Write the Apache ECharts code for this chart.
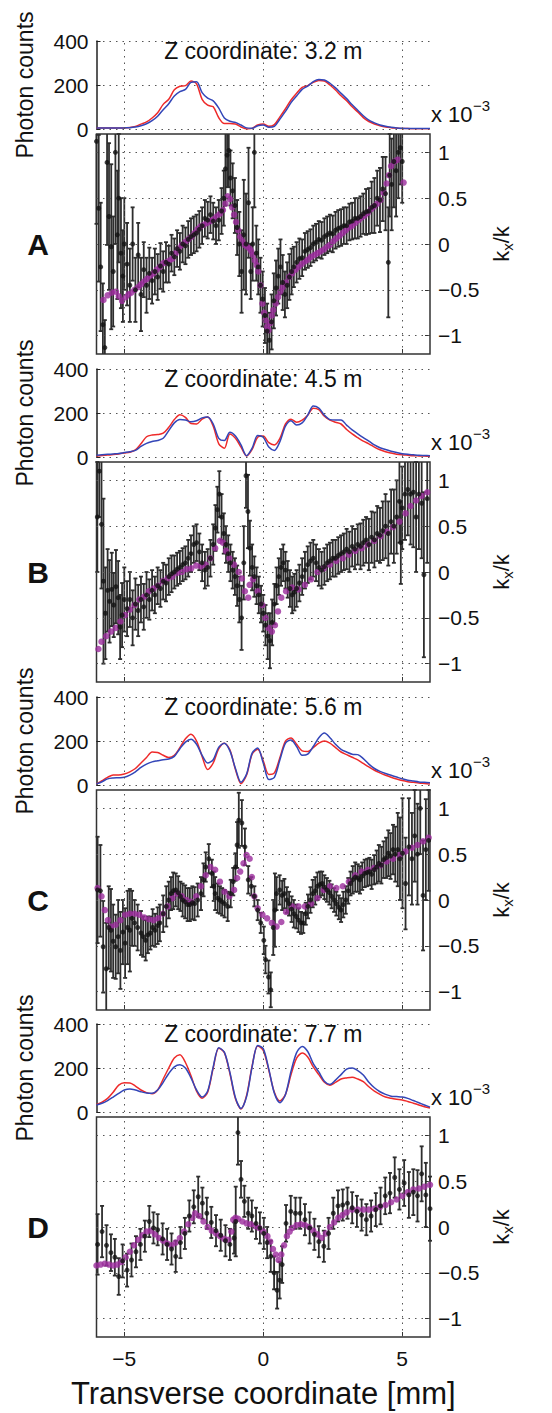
<!DOCTYPE html>
<html><head><meta charset="utf-8">
<script src="https://cdn.jsdelivr.net/npm/echarts@6.0.0/dist/echarts.min.js"></script>
<style>html,body{margin:0;padding:0;background:#fff}#c{width:552px;height:1413px}</style>
</head><body><div id="c"></div>
<script>
// ---------- DATA ----------
const topX = [-6,-5.8,-5.6,-5.4,-5.2,-5,-4.8,-4.6,-4.4,-4.2,-4,-3.8,-3.6,-3.4,-3.2,-3,-2.8,-2.6,-2.4,-2.2,-2,-1.8,-1.6,-1.4,-1.2,-1,-0.8,-0.6,-0.4,-0.2,0,0.2,0.4,0.6,0.8,1,1.2,1.4,1.6,1.8,2,2.2,2.4,2.6,2.8,3,3.2,3.4,3.6,3.8,4,4.2,4.4,4.6,4.8,5,5.2,5.4,5.6,5.8,6];

const countsRedA  = [5,5,5,5,5,5,7,12,22,32,50,74,112,135,178,194,197,218,205,135,108,101,51,25,25,23,9,0,3,18,23,12,20,55,92,132,163,189,197,212,221,218,200,177,151,128,101,77,52,34,23,15,9,6,4,2,2,1,1,1,1];
const countsBlueA = [4,4,4,4,4,5,6,9,15,24,38,58,88,115,150,170,180,212,215,165,140,128,95,50,35,30,18,5,3,15,18,8,12,45,80,120,150,180,195,215,225,223,208,187,162,138,110,85,60,40,28,18,12,8,5,3,2,2,2,2,2];
const countsRedB  = [5,7,9,11,14,18,22,32,60,92,100,102,108,135,170,192,180,152,150,172,182,140,60,40,105,85,45,5,35,90,95,65,55,85,150,172,158,168,190,222,215,185,168,158,150,125,105,88,72,60,45,33,24,18,13,10,8,6,5,4,3];
const countsBlueB = [8,10,12,14,16,20,24,30,48,62,70,75,85,120,155,170,168,160,165,178,182,150,85,75,112,95,55,6,40,98,90,45,30,70,140,165,145,155,190,232,222,190,170,168,168,145,123,105,88,72,55,42,34,26,20,15,12,10,8,7,6];
const countsRedC  = [5,20,35,45,45,50,60,75,100,125,150,148,135,125,135,170,210,231,200,130,70,100,165,190,160,70,6,45,140,162,110,48,55,125,200,214,185,155,152,170,190,200,190,170,150,138,126,114,98,82,67,55,44,35,27,20,15,12,9,7,5];
const countsBlueC = [5,15,28,32,33,35,45,60,80,95,105,110,115,118,130,165,195,208,185,135,100,115,172,190,155,75,12,50,145,168,100,25,35,115,190,205,175,135,140,175,215,236,215,185,162,150,140,138,120,95,75,62,52,44,36,28,22,18,14,12,10];
const countsRedD  = [34,45,62,90,122,133,132,118,100,88,83,100,150,200,245,260,225,165,95,63,90,200,290,270,175,60,14,75,210,300,280,190,90,50,80,170,245,268,250,205,170,135,122,135,150,155,158,150,138,115,95,80,68,62,58,55,48,40,32,24,18];
const countsBlueD = [32,40,52,68,85,100,105,100,92,86,85,100,135,175,205,215,200,155,100,68,95,205,292,272,180,65,16,70,205,302,288,195,85,42,80,185,270,298,275,220,182,140,125,145,170,195,200,188,168,135,110,92,80,72,70,68,62,52,42,32,22];

// measured k_x/k (x10^-3): [x, value, error]
const kxA = [[-6.0,1.12,0.9],[-5.92,0.39,0.8],[-5.85,-0.25,0.7],[-5.77,-0.88,0.45],[-5.7,-1.13,0.3],[-5.62,0.89,0.9],[-5.55,0.3,0.8],[-5.47,-0.03,0.9],[-5.4,-0.3,0.6],[-5.32,1.0,1.0],[-5.25,0.1,0.7],[-5.2,0.5,0.7],[-5.12,-0.1,0.6],[-5.05,-0.35,0.5],[-5.0,0.0,0.5],[-4.9,-0.22,0.45],[-4.8,-0.45,0.4],[-4.7,0.0,0.4],[-4.6,-0.5,0.35],[-4.5,-0.12,0.35],[-4.4,-0.55,0.4],[-4.3,-0.28,0.3],[-4.2,-0.45,0.3],[-4.1,-0.32,0.28],[-4.0,-0.4,0.25],[-3.9,-0.3,0.25],[-3.8,-0.36,0.25],[-3.7,-0.24,0.25],[-3.6,-0.3,0.22],[-3.5,-0.2,0.22],[-3.4,-0.22,0.2],[-3.3,-0.1,0.2],[-3.2,-0.14,0.2],[-3.1,-0.05,0.2],[-3.0,-0.08,0.2],[-2.9,0.0,0.2],[-2.8,-0.02,0.2],[-2.7,0.05,0.2],[-2.6,0.08,0.2],[-2.5,0.1,0.2],[-2.4,0.12,0.2],[-2.3,0.16,0.2],[-2.2,0.2,0.2],[-2.1,0.28,0.2],[-2.0,0.26,0.2],[-1.9,0.32,0.2],[-1.8,0.25,0.2],[-1.7,0.2,0.2],[-1.6,0.26,0.22],[-1.5,0.36,0.25],[-1.42,0.5,0.3],[-1.36,0.82,0.4],[-1.3,0.97,0.35],[-1.24,1.02,0.4],[-1.18,0.72,0.3],[-1.1,0.58,0.3],[-1.02,0.42,0.3],[-0.94,0.18,0.3],[-0.86,0.0,0.35],[-0.78,-0.3,0.45],[-0.7,0.1,0.6],[-0.62,0.0,0.55],[-0.53,0.45,0.6],[-0.45,-0.3,0.3],[-0.38,0.0,0.4],[-0.32,1.0,0.6],[-0.25,-0.1,0.3],[-0.18,-0.25,0.3],[-0.1,-0.45,0.3],[-0.02,-0.6,0.3],[0.06,-0.78,0.3],[0.14,-0.95,0.3],[0.22,-1.05,0.3],[0.3,-0.85,0.3],[0.38,-0.62,0.3],[0.46,-0.48,0.3],[0.54,-0.35,0.3],[0.62,-0.25,0.3],[0.7,-0.42,0.3],[0.78,-0.55,0.25],[0.86,-0.45,0.25],[0.94,-0.36,0.25],[1.02,-0.3,0.25],[1.1,-0.25,0.22],[1.2,-0.2,0.22],[1.3,-0.16,0.22],[1.4,-0.15,0.2],[1.5,-0.08,0.2],[1.6,-0.06,0.2],[1.7,-0.04,0.2],[1.8,0.0,0.2],[1.9,0.02,0.2],[2.0,0.05,0.2],[2.1,0.04,0.2],[2.2,0.08,0.2],[2.3,0.1,0.2],[2.4,0.12,0.2],[2.5,0.11,0.2],[2.6,0.15,0.2],[2.7,0.17,0.2],[2.8,0.18,0.2],[2.9,0.2,0.2],[3.0,0.2,0.2],[3.1,0.24,0.2],[3.2,0.25,0.2],[3.3,0.28,0.22],[3.4,0.28,0.22],[3.5,0.3,0.22],[3.6,0.33,0.22],[3.7,0.35,0.25],[3.8,0.36,0.25],[3.9,0.4,0.28],[4.0,0.42,0.3],[4.1,0.5,0.3],[4.2,0.48,0.35],[4.3,0.6,0.35],[4.4,0.55,0.4],[4.5,-0.2,0.6],[4.55,0.75,0.45],[4.62,0.65,0.5],[4.7,0.9,0.5],[4.78,0.8,0.5],[4.86,1.0,0.5],[4.93,1.05,0.4],[5.0,0.9,0.45]];
const kxB = [[-5.97,0.6,0.6],[-5.9,1.1,0.5],[-5.82,0.52,0.7],[-5.75,-0.1,0.9],[-5.68,-0.45,0.5],[-5.6,-0.2,0.45],[-5.53,-0.32,0.45],[-5.45,-0.19,0.4],[-5.38,-0.36,0.35],[-5.3,-0.16,0.4],[-5.22,-0.28,0.4],[-5.15,-0.6,0.35],[-5.08,-0.47,0.35],[-5.0,-0.3,0.35],[-4.9,-0.4,0.3],[-4.8,-0.3,0.3],[-4.7,-0.5,0.3],[-4.6,-0.35,0.28],[-4.5,-0.42,0.28],[-4.4,-0.3,0.25],[-4.3,-0.38,0.25],[-4.2,-0.25,0.25],[-4.1,-0.3,0.22],[-4.0,-0.2,0.22],[-3.9,-0.25,0.2],[-3.8,-0.15,0.2],[-3.7,-0.18,0.2],[-3.6,-0.1,0.2],[-3.5,-0.12,0.2],[-3.4,-0.05,0.2],[-3.3,-0.02,0.2],[-3.2,0.0,0.18],[-3.1,0.03,0.18],[-3.0,0.05,0.18],[-2.9,0.08,0.18],[-2.8,0.1,0.18],[-2.7,0.15,0.2],[-2.6,0.2,0.2],[-2.5,0.3,0.2],[-2.4,0.32,0.2],[-2.3,0.22,0.2],[-2.2,0.1,0.2],[-2.1,0.02,0.2],[-2.0,0.05,0.2],[-1.9,0.15,0.2],[-1.8,0.3,0.22],[-1.72,0.48,0.25],[-1.65,0.68,0.25],[-1.58,0.85,0.25],[-1.5,0.6,0.25],[-1.42,0.42,0.22],[-1.34,0.3,0.2],[-1.26,0.2,0.2],[-1.18,0.1,0.2],[-1.1,0.02,0.2],[-1.02,-0.05,0.2],[-0.94,-0.15,0.22],[-0.86,-0.3,0.25],[-0.78,-0.5,0.35],[-0.7,0.1,0.4],[-0.62,1.05,0.35],[-0.55,0.66,0.4],[-0.48,0.26,0.3],[-0.4,0.05,0.25],[-0.32,-0.05,0.22],[-0.24,-0.15,0.2],[-0.16,-0.25,0.2],[-0.08,-0.35,0.2],[0.0,-0.45,0.2],[0.08,-0.58,0.22],[0.16,-0.7,0.25],[0.24,-0.75,0.3],[0.32,-0.55,0.25],[0.4,-0.35,0.22],[0.48,-0.15,0.2],[0.56,-0.05,0.2],[0.64,0.05,0.2],[0.72,0.1,0.2],[0.8,0.02,0.2],[0.88,-0.08,0.2],[0.96,-0.18,0.2],[1.04,-0.25,0.2],[1.12,-0.22,0.2],[1.2,-0.18,0.2],[1.3,-0.12,0.2],[1.4,-0.05,0.2],[1.5,0.02,0.2],[1.6,0.08,0.2],[1.7,0.12,0.2],[1.8,0.15,0.2],[1.9,0.1,0.2],[2.0,0.05,0.2],[2.1,0.02,0.2],[2.2,0.06,0.2],[2.3,0.1,0.2],[2.4,0.12,0.2],[2.5,0.15,0.2],[2.6,0.15,0.2],[2.7,0.18,0.2],[2.8,0.2,0.2],[2.9,0.22,0.2],[3.0,0.25,0.22],[3.1,0.22,0.22],[3.2,0.28,0.22],[3.3,0.25,0.22],[3.4,0.3,0.22],[3.5,0.28,0.25],[3.6,0.32,0.25],[3.7,0.35,0.25],[3.8,0.3,0.28],[3.9,0.38,0.28],[4.0,0.35,0.3],[4.1,0.42,0.3],[4.2,0.4,0.3],[4.3,0.45,0.32],[4.4,0.5,0.35],[4.5,0.42,0.35],[4.6,0.55,0.35],[4.7,0.5,0.4],[4.8,0.6,0.4],[4.9,0.77,0.45],[4.95,0.32,0.45],[5.0,0.7,0.45],[5.1,0.85,0.5],[5.2,0.9,0.5],[5.3,0.85,0.55],[5.4,0.87,0.6],[5.5,0.6,0.6],[5.6,0.85,0.6],[5.7,0.75,0.6],[5.78,-0.03,0.9],[5.9,0.8,0.7]];
const kxC = [[-5.96,0.11,0.58],[-5.86,0.1,0.5],[-5.76,-0.51,0.5],[-5.65,-0.75,0.5],[-5.56,-0.3,0.45],[-5.48,-0.33,0.45],[-5.4,-0.45,0.4],[-5.31,-0.51,0.35],[-5.22,-0.4,0.4],[-5.14,-0.55,0.42],[-5.05,-0.35,0.35],[-4.97,-0.47,0.38],[-4.88,-0.3,0.4],[-4.8,-0.33,0.45],[-4.72,-0.2,0.3],[-4.63,-0.25,0.25],[-4.52,-0.3,0.25],[-4.4,-0.36,0.24],[-4.32,-0.4,0.22],[-4.23,-0.44,0.22],[-4.15,-0.38,0.2],[-4.06,-0.36,0.18],[-3.98,-0.3,0.2],[-3.89,-0.33,0.18],[-3.8,-0.28,0.2],[-3.72,-0.25,0.2],[-3.6,-0.15,0.2],[-3.49,-0.07,0.22],[-3.4,0.0,0.2],[-3.32,0.07,0.18],[-3.24,0.1,0.2],[-3.15,0.11,0.18],[-3.06,0.08,0.18],[-2.98,0.04,0.16],[-2.9,0.0,0.18],[-2.81,-0.02,0.18],[-2.72,-0.05,0.18],[-2.64,-0.05,0.18],[-2.55,-0.03,0.18],[-2.47,-0.04,0.18],[-2.36,0.0,0.18],[-2.24,0.07,0.18],[-2.15,0.22,0.18],[-2.07,0.36,0.16],[-1.96,0.45,0.16],[-1.85,0.29,0.15],[-1.78,0.15,0.16],[-1.73,0.07,0.18],[-1.64,0.02,0.16],[-1.56,0.0,0.15],[-1.48,-0.02,0.15],[-1.39,-0.04,0.15],[-1.28,-0.07,0.16],[-1.17,0.07,0.15],[-1.08,0.2,0.15],[-1.0,0.36,0.15],[-0.94,0.6,0.25],[-0.88,0.87,0.3],[-0.77,0.84,0.25],[-0.66,0.58,0.2],[-0.54,0.22,0.15],[-0.43,0.15,0.1],[-0.32,0.04,0.11],[-0.2,-0.11,0.11],[-0.09,-0.25,0.11],[0.02,-0.44,0.15],[0.08,-0.65,0.15],[0.19,-0.84,0.18],[0.27,-0.98,0.19],[0.36,-0.3,0.3],[0.42,-0.11,0.4],[0.48,0.07,0.18],[0.59,0.11,0.16],[0.68,0.05,0.16],[0.76,0.07,0.16],[0.85,0.0,0.14],[0.93,-0.04,0.13],[1.02,-0.1,0.14],[1.1,-0.15,0.15],[1.19,-0.18,0.13],[1.27,-0.22,0.13],[1.36,-0.25,0.12],[1.44,-0.25,0.11],[1.53,-0.15,0.12],[1.61,-0.07,0.13],[1.7,0.0,0.14],[1.78,0.07,0.15],[1.87,0.1,0.15],[1.95,0.15,0.15],[2.04,0.17,0.14],[2.12,0.18,0.13],[2.2,0.14,0.13],[2.29,0.11,0.13],[2.38,0.08,0.13],[2.46,0.04,0.13],[2.55,0.0,0.13],[2.63,-0.04,0.13],[2.72,-0.08,0.13],[2.8,-0.11,0.13],[2.88,-0.05,0.14],[2.97,0.0,0.15],[3.06,0.1,0.14],[3.14,0.18,0.13],[3.22,0.22,0.15],[3.31,0.25,0.16],[3.4,0.24,0.15],[3.48,0.22,0.15],[3.56,0.26,0.15],[3.65,0.29,0.15],[3.74,0.3,0.15],[3.82,0.31,0.15],[3.9,0.28,0.16],[3.99,0.33,0.16],[4.08,0.36,0.18],[4.16,0.4,0.2],[4.25,0.38,0.2],[4.33,0.44,0.2],[4.42,0.46,0.22],[4.5,0.51,0.25],[4.58,0.48,0.25],[4.67,0.55,0.27],[4.75,0.5,0.3],[4.84,0.55,0.4],[4.92,0.45,0.45],[5.01,0.51,0.6],[5.12,0.18,0.5],[5.24,0.58,0.53],[5.35,0.45,0.5],[5.45,0.7,0.5],[5.55,0.5,0.55],[5.65,1.0,0.5],[5.75,0.05,0.6],[5.85,0.55,0.55],[5.95,0.65,0.55]];
const kxD = [[-5.96,-0.19,0.33],[-5.8,-0.05,0.28],[-5.64,-0.2,0.22],[-5.48,-0.28,0.2],[-5.34,-0.33,0.2],[-5.2,-0.54,0.2],[-5.06,-0.37,0.18],[-4.9,-0.47,0.18],[-4.74,-0.36,0.18],[-4.58,-0.27,0.17],[-4.42,-0.19,0.17],[-4.26,-0.1,0.17],[-4.1,0.06,0.17],[-3.95,-0.01,0.17],[-3.8,-0.03,0.17],[-3.62,-0.13,0.17],[-3.46,-0.19,0.17],[-3.3,-0.24,0.17],[-3.15,-0.32,0.17],[-2.98,-0.17,0.17],[-2.82,-0.07,0.17],[-2.66,0.12,0.17],[-2.5,0.22,0.18],[-2.34,0.33,0.22],[-2.19,0.26,0.17],[-2.03,0.15,0.17],[-1.87,0.05,0.17],[-1.7,-0.04,0.17],[-1.53,-0.09,0.17],[-1.36,-0.15,0.17],[-1.2,-0.19,0.17],[-1.05,-0.12,0.17],[-0.99,0.06,0.38],[-0.91,1.03,0.35],[-0.8,0.52,0.2],[-0.68,0.28,0.17],[-0.54,0.15,0.17],[-0.41,0.12,0.17],[-0.26,0.04,0.17],[-0.12,-0.01,0.17],[0.02,-0.07,0.17],[0.14,-0.17,0.17],[0.27,-0.32,0.17],[0.39,-0.5,0.18],[0.5,-0.69,0.2],[0.59,-0.58,0.2],[0.68,-0.41,0.2],[0.82,0.04,0.2],[0.99,0.17,0.17],[1.16,0.15,0.17],[1.33,0.15,0.17],[1.5,0.08,0.17],[1.67,-0.01,0.17],[1.84,-0.08,0.17],[2.0,-0.16,0.17],[2.18,-0.21,0.17],[2.35,-0.07,0.17],[2.52,0.15,0.17],[2.69,0.23,0.17],[2.86,0.24,0.17],[3.03,0.26,0.17],[3.2,0.21,0.17],[3.37,0.17,0.17],[3.54,0.13,0.17],[3.71,0.08,0.17],[3.88,0.12,0.17],[4.05,0.19,0.18],[4.22,0.23,0.2],[4.39,0.34,0.2],[4.56,0.37,0.22],[4.73,0.54,0.22],[4.9,0.41,0.22],[5.07,0.48,0.25],[5.24,0.35,0.25],[5.4,0.38,0.25],[5.55,0.34,0.28],[5.7,0.58,0.3],[5.85,0.35,0.35],[6.0,0.2,0.35]];

// theory k_x/k (x10^-3): [x, value]
const theoryA = [[-5.75,-0.61],[-5.6,-0.56],[-5.45,-0.53],[-5.3,-0.52],[-5.2,-0.57],[-5.08,-0.62],[-4.95,-0.58],[-4.85,-0.55],[-4.75,-0.53],[-4.63,-0.5],[-4.5,-0.47],[-4.4,-0.44],[-4.29,-0.41],[-4.18,-0.38],[-4.06,-0.35],[-3.95,-0.32],[-3.83,-0.28],[-3.72,-0.25],[-3.6,-0.21],[-3.49,-0.2],[-3.38,-0.18],[-3.27,-0.16],[-3.15,-0.1],[-3.04,-0.05],[-2.93,-0.01],[-2.81,0.02],[-2.7,0.05],[-2.58,0.08],[-2.47,0.12],[-2.37,0.16],[-2.26,0.19],[-2.14,0.21],[-2.02,0.23],[-1.9,0.25],[-1.79,0.27],[-1.68,0.3],[-1.56,0.33],[-1.45,0.37],[-1.36,0.44],[-1.28,0.52],[-1.2,0.49],[-1.12,0.4],[-1.05,0.32],[-0.98,0.24],[-0.9,0.15],[-0.83,0.08],[-0.75,0.03],[-0.66,-0.01],[-0.58,-0.03],[-0.49,-0.05],[-0.43,-0.08],[-0.37,-0.12],[-0.3,-0.18],[-0.24,-0.23],[-0.18,-0.3],[-0.1,-0.45],[-0.03,-0.65],[0.03,-0.75],[0.08,-0.83],[0.14,-0.9],[0.19,-0.94],[0.26,-0.86],[0.31,-0.78],[0.36,-0.72],[0.45,-0.65],[0.53,-0.58],[0.62,-0.52],[0.7,-0.47],[0.81,-0.42],[0.93,-0.36],[1.04,-0.32],[1.16,-0.28],[1.27,-0.25],[1.38,-0.22],[1.5,-0.19],[1.61,-0.17],[1.72,-0.14],[1.84,-0.12],[1.95,-0.1],[2.06,-0.08],[2.18,-0.06],[2.29,-0.03],[2.4,-0.01],[2.52,0.03],[2.63,0.06],[2.75,0.09],[2.86,0.12],[2.97,0.15],[3.09,0.18],[3.2,0.2],[3.31,0.23],[3.43,0.26],[3.54,0.29],[3.65,0.31],[3.76,0.34],[3.88,0.38],[3.99,0.41],[4.1,0.44],[4.22,0.48],[4.33,0.56],[4.44,0.66],[4.52,0.75],[4.6,0.85],[4.72,0.9],[4.84,0.92],[5.05,0.67]];
const theoryB = [[-5.93,-0.84],[-5.82,-0.76],[-5.65,-0.7],[-5.48,-0.65],[-5.31,-0.61],[-5.14,-0.54],[-4.97,-0.47],[-4.8,-0.41],[-4.63,-0.36],[-4.46,-0.3],[-4.29,-0.27],[-4.12,-0.21],[-3.95,-0.18],[-3.78,-0.15],[-3.61,-0.1],[-3.44,-0.07],[-3.27,-0.05],[-3.1,-0.01],[-2.93,0.0],[-2.76,0.03],[-2.59,0.04],[-2.41,0.07],[-2.24,0.06],[-2.07,0.08],[-1.9,0.15],[-1.73,0.26],[-1.56,0.34],[-1.45,0.32],[-1.34,0.23],[-1.22,0.15],[-1.05,0.08],[-0.88,0.0],[-0.77,-0.07],[-0.66,-0.21],[-0.54,-0.28],[-0.49,-0.14],[-0.37,-0.08],[-0.2,-0.21],[-0.03,-0.36],[0.08,-0.5],[0.19,-0.61],[0.31,-0.65],[0.42,-0.58],[0.53,-0.43],[0.65,-0.28],[0.82,-0.21],[1.04,-0.17],[1.27,-0.19],[1.5,-0.14],[1.72,-0.08],[1.95,0.0],[2.18,0.04],[2.4,0.08],[2.63,0.12],[2.86,0.15],[3.08,0.19],[3.31,0.23],[3.54,0.26],[3.76,0.3],[3.99,0.34],[4.22,0.39],[4.44,0.44],[4.67,0.49],[4.9,0.55],[5.12,0.64],[5.3,0.72],[5.5,0.78],[5.7,0.83],[5.9,0.87]];
const theoryC = [[-5.96,0.13],[-5.82,0.04],[-5.7,-0.11],[-5.59,-0.22],[-5.48,-0.29],[-5.31,-0.27],[-5.14,-0.22],[-4.97,-0.16],[-4.8,-0.15],[-4.63,-0.15],[-4.46,-0.16],[-4.29,-0.19],[-4.12,-0.21],[-3.95,-0.22],[-3.78,-0.2],[-3.61,-0.15],[-3.44,-0.07],[-3.27,0.02],[-3.1,0.07],[-2.93,0.04],[-2.76,0.0],[-2.59,-0.02],[-2.41,0.04],[-2.24,0.15],[-2.07,0.27],[-1.9,0.36],[-1.73,0.33],[-1.56,0.2],[-1.39,0.09],[-1.22,0.04],[-1.05,0.11],[-0.94,0.24],[-0.83,0.31],[-0.71,0.4],[-0.6,0.49],[-0.49,0.45],[-0.41,0.25],[-0.32,0.04],[-0.2,-0.09],[-0.03,-0.16],[0.14,-0.2],[0.31,-0.25],[0.48,-0.29],[0.65,-0.24],[0.82,-0.13],[1.04,-0.07],[1.27,-0.07],[1.5,-0.07],[1.72,-0.04],[1.95,0.02],[2.18,0.11],[2.4,0.15],[2.63,0.13],[2.86,0.15],[3.08,0.2],[3.31,0.27],[3.54,0.31],[3.76,0.33],[3.99,0.35],[4.22,0.38],[4.44,0.42],[4.67,0.45],[4.9,0.49],[5.12,0.53],[5.35,0.57],[5.55,0.6],[5.75,0.64],[5.95,0.68]];
const theoryD = [[-6.0,-0.42],[-5.85,-0.41],[-5.7,-0.4],[-5.55,-0.41],[-5.4,-0.42],[-5.25,-0.41],[-5.1,-0.38],[-4.95,-0.33],[-4.8,-0.27],[-4.65,-0.2],[-4.5,-0.14],[-4.35,-0.09],[-4.2,-0.05],[-4.05,-0.04],[-3.9,-0.08],[-3.75,-0.12],[-3.6,-0.15],[-3.45,-0.18],[-3.3,-0.2],[-3.15,-0.17],[-3.0,-0.12],[-2.85,-0.05],[-2.7,0.03],[-2.55,0.1],[-2.45,0.15],[-2.3,0.12],[-2.15,0.06],[-2.0,0.0],[-1.85,-0.04],[-1.7,-0.07],[-1.55,-0.1],[-1.4,-0.13],[-1.25,-0.14],[-1.15,-0.05],[-1.08,0.08],[-1.0,0.1],[-0.9,0.09],[-0.75,0.06],[-0.6,0.04],[-0.45,0.03],[-0.3,0.01],[-0.15,-0.01],[0.0,-0.05],[0.15,-0.1],[0.25,-0.16],[0.35,-0.24],[0.45,-0.3],[0.55,-0.36],[0.65,-0.3],[0.75,-0.2],[0.85,-0.1],[0.95,-0.05],[1.05,-0.01],[1.2,0.02],[1.35,0.03],[1.5,0.02],[1.65,0.0],[1.8,-0.04],[1.95,-0.08],[2.1,-0.12],[2.25,-0.07],[2.4,0.0],[2.55,0.05],[2.7,0.1],[2.85,0.13],[3.0,0.16],[3.2,0.19],[3.4,0.19],[3.6,0.19],[3.8,0.19],[4.0,0.2],[4.2,0.22],[4.4,0.24],[4.6,0.27],[4.8,0.3],[5.0,0.34],[5.2,0.38],[5.4,0.41],[5.6,0.42],[5.8,0.44],[6.0,0.46]];

const panelLetters = ['A','B','C','D'];
const zTitles = ['Z coordinate: 3.2 m','Z coordinate: 4.5 m','Z coordinate: 5.6 m','Z coordinate: 7.7 m'];
const xTicks = [-5, 0, 5];
const kxTicks = [-1, -0.5, 0, 0.5, 1];

// ---------- LAYOUT / STYLE ----------
const FONT = '"Liberation Sans", Arial, Helvetica, sans-serif';
const panels = [
  {red: countsRedA, blue: countsBlueA, kx: kxA, th: theoryA},
  {red: countsRedB, blue: countsBlueB, kx: kxB, th: theoryB},
  {red: countsRedC, blue: countsBlueC, kx: kxC, th: theoryC},
  {red: countsRedD, blue: countsBlueD, kx: kxD, th: theoryD}
];
const topTops = [41, 369, 697, 1024];
const botTops = [134, 462, 790, 1117];
const L = 96.5, R = 122, TOPH = 88, BOTH = 220;
const gridDot = {type: [1.5, 5], color: '#555', width: 1};
const minus = v => (v < 0 ? '\u2212' + Math.abs(v) : String(v));

function errRender(params, api) {
  const x = api.value(0), y = api.value(1), e = api.value(2);
  const p1 = api.coord([x, y + e]);
  const p2 = api.coord([x, y - e]);
  const cs = params.coordSys;
  const top = Math.max(p1[1], cs.y), bot = Math.min(p2[1], cs.y + cs.height);
  const w = 2;
  const mk = () => ({stroke: '#2e2e2e', lineWidth: 1.8});
  const ch = [{type: 'line', shape: {x1: p1[0], y1: top, x2: p1[0], y2: bot}, style: mk()}];
  if (p1[1] >= cs.y) ch.push({type: 'line', shape: {x1: p1[0] - w, y1: p1[1], x2: p1[0] + w, y2: p1[1]}, style: mk()});
  if (p2[1] <= cs.y + cs.height) ch.push({type: 'line', shape: {x1: p2[0] - w, y1: p2[1], x2: p2[0] + w, y2: p2[1]}, style: mk()});
  return {type: 'group', children: ch};
}

const grid = [], xAxis = [], yAxis = [], series = [], graphic = [];
panels.forEach((p, i) => {
  const gt = 2 * i, gb = 2 * i + 1;
  grid.push({left: L, right: R, top: topTops[i], height: TOPH, show: false});
  grid.push({left: L, right: R, top: botTops[i], height: BOTH, show: true, borderColor: '#333', borderWidth: 1.5, backgroundColor: 'transparent'});

  xAxis.push({gridIndex: gt, type: 'value', min: -6, max: 6, axisLine: {show: false, onZero: false}, axisTick: {show: false}, axisLabel: {show: false}, splitLine: {show: false}});
  xAxis.push({gridIndex: gb, type: 'value', min: -6, max: 6,
    axisLine: {show: false, onZero: false},
    axisTick: {show: true, inside: true, length: 5, customValues: xTicks, lineStyle: {color: '#333'}},
    axisLabel: {show: i === 3, customValues: xTicks, formatter: minus, fontSize: 21, color: '#111', margin: 11, fontFamily: FONT},
    splitLine: {show: false},
    name: i === 3 ? 'Transverse coordinate [mm]' : '', nameLocation: 'middle', nameGap: 41,
    nameTextStyle: {fontSize: 31, color: '#111', fontFamily: FONT}});

  yAxis.push({gridIndex: gt, type: 'value', min: 0, max: 400, interval: 200, position: 'left',
    axisLine: {show: true, onZero: false, lineStyle: {color: '#222', width: 1.5}},
    axisTick: {show: true, inside: true, length: 4, lineStyle: {color: '#222'}},
    axisLabel: {fontSize: 21, color: '#111', margin: 8, fontFamily: FONT},
    splitLine: {show: true, lineStyle: gridDot},
    name: 'Photon counts', nameLocation: 'middle', nameGap: 60, nameRotate: 90,
    nameTextStyle: {fontSize: 23, color: '#111', fontFamily: FONT}});
  yAxis.push({gridIndex: gb, type: 'value', min: -1.2, max: 1.2, position: 'right',
    axisLine: {show: false, onZero: false},
    axisTick: {show: true, inside: true, length: 5, customValues: kxTicks, lineStyle: {color: '#333'}},
    axisLabel: {customValues: kxTicks, formatter: minus, fontSize: 21, color: '#111', margin: 8, fontFamily: FONT},
    splitLine: {show: false},
    name: '{k|k}{s|x}{k|/k}', nameLocation: 'middle', nameGap: 56, nameRotate: 90,
    nameTextStyle: {fontFamily: FONT, color: '#111', rich: {k: {fontSize: 22, fontFamily: FONT, color: '#111'}, s: {fontSize: 15, fontFamily: FONT, color: '#111', padding: [12, 0, 0, 0]}}}});

  series.push({type: 'scatter', xAxisIndex: gt, yAxisIndex: gt, data: [[0, -1000]], symbolSize: 0, silent: true, z: 1,
    markLine: {silent: true, symbol: ['none', 'none'], label: {show: false}, lineStyle: gridDot, animation: false,
      data: xTicks.map(v => ({xAxis: v}))}});
  series.push({type: 'line', xAxisIndex: gt, yAxisIndex: gt, data: topX.map((x, j) => [x, p.red[j]]),
    showSymbol: false, smooth: 0.3, lineStyle: {color: '#ee2a2a', width: 1.5}, z: 3, silent: true});
  series.push({type: 'line', xAxisIndex: gt, yAxisIndex: gt, data: topX.map((x, j) => [x, p.blue[j]]),
    showSymbol: false, smooth: 0.3, lineStyle: {color: '#3346b8', width: 1.5}, z: 4, silent: true});

  series.push({type: 'scatter', xAxisIndex: gb, yAxisIndex: gb, data: [[0, -1000]], symbolSize: 0, silent: true, z: 1,
    markLine: {silent: true, symbol: ['none', 'none'], label: {show: false}, lineStyle: gridDot, animation: false,
      data: xTicks.map(v => ({xAxis: v})).concat(kxTicks.map(v => ({yAxis: v})))}});
  series.push({type: 'custom', xAxisIndex: gb, yAxisIndex: gb, data: p.kx, renderItem: errRender, z: 3, silent: true,
    encode: {x: 0, y: 1}});
  series.push({type: 'scatter', xAxisIndex: gb, yAxisIndex: gb, data: p.th, symbolSize: 6.5,
    itemStyle: {color: '#9b2c9c'}, z: 4, silent: true});
  series.push({type: 'scatter', xAxisIndex: gb, yAxisIndex: gb, data: p.kx.map(d => [d[0], d[1]]), symbolSize: 5,
    itemStyle: {color: '#111'}, z: 5, silent: true});

  graphic.push({type: 'text', x: L + (552 - L - R) / 2, y: topTops[i] + 10,
    style: {text: zTitles[i], font: '23px ' + FONT, fill: '#111', align: 'center', verticalAlign: 'middle'}});
  graphic.push({type: 'text', x: 431, y: botTops[i] - 20,
    style: {text: 'x 10', font: '22px ' + FONT, fill: '#111', align: 'left', verticalAlign: 'middle'}});
  graphic.push({type: 'text', x: 473, y: botTops[i] - 29,
    style: {text: '\u22123', font: '15px ' + FONT, fill: '#111', align: 'left', verticalAlign: 'middle'}});
  graphic.push({type: 'text', x: 38, y: botTops[i] + BOTH / 2,
    style: {text: panelLetters[i], font: 'bold 30px ' + FONT, fill: '#111', align: 'center', verticalAlign: 'middle'}});
});

const chart = echarts.init(document.getElementById('c'), null, {renderer: 'svg', width: 552, height: 1413});
chart.setOption({
  animation: false,
  backgroundColor: '#fff',
  textStyle: {fontFamily: FONT},
  grid, xAxis, yAxis, series, graphic
});
</script>
</body></html>
